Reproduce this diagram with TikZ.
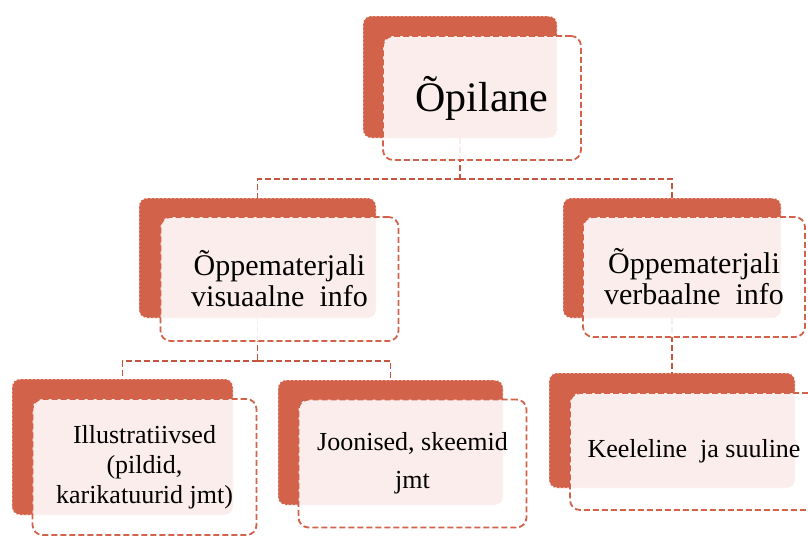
\documentclass[tikz,border=0pt]{standalone}
\usepackage{fontspec}
\setmainfont{Liberation Serif}
\usepackage{tikz}

\definecolor{accent}{RGB}{210,99,74}
\definecolor{linkred}{RGB}{196,86,64}

\begin{document}
\begin{tikzpicture}[x=1pt, y=-1pt,
    back/.style={draw=white, dash pattern=on 2pt off 2pt, line width=0.9pt,
                 fill=accent, rounded corners=8pt, inner sep=0pt},
    front/.style={draw=accent, dash pattern=on 6pt off 3pt, line width=1.8pt,
                  fill=white, fill opacity=0.89, text opacity=1,
                  rounded corners=10pt, inner sep=0pt, align=center},
    link/.style={draw=linkred, dash pattern=on 6pt off 3pt, line width=1.8pt}]
                \useasboundingbox (0,0) rectangle (808,536);

                % Back boxes
                \node[back, minimum width=194pt, minimum height=122pt] (top) at (460,77) {};
                \node[back, minimum width=237pt, minimum height=120pt] (lmid) at (257.5,258) {};
                \node[back, minimum width=218pt, minimum height=120pt] (rmid) at (672,258) {};
                \node[back, minimum width=221pt, minimum height=136pt] (lbot) at (122.5,447) {};
                \node[back, minimum width=225pt, minimum height=125pt] (mbot) at (390.5,442.5) {};
                \node[back, minimum width=246pt, minimum height=115pt] (rbot) at (672,430.5) {};

                % Connectors
                \coordinate (bus1) at (460,179);
                \coordinate (bus2) at (257.5,361);
                \draw[link] (top.south) -- (bus1);
                \draw[link] (bus1) -| (lmid.north);
                \draw[link] (bus1) -| (rmid.north);
                \draw[link] (lmid.south) -- (bus2);
                \draw[link] (bus2) -| (lbot.north);
                \draw[link] (bus2) -| (mbot.north);
                \draw[link] (rmid.south) -- (rbot.north);

                % Front boxes with text
                \node[front, minimum width=198pt, minimum height=124pt,
                      font=\fontsize{42}{44}\selectfont] (topt) at ([shift={(22,21)}]top.center) {Õpilane};
                \node[front, minimum width=238pt, minimum height=124pt,
                      font=\fontsize{30}{31}\selectfont] (lmidt) at ([shift={(22,21)}]lmid.center) {Õppematerjali\\visuaalne\ \ info};
                \node[front, minimum width=222pt, minimum height=120pt,
                      font=\fontsize{30}{31}\selectfont] (rmidt) at ([shift={(22,19)}]rmid.center) {Õppematerjali\\verbaalne\ \ info};
                \node[front, minimum width=224pt, minimum height=136pt,
                      font=\fontsize{26}{30}\selectfont] (lbott) at ([shift={(22,20)}]lbot.center) {Illustratiivsed\\(pildid,\\karikatuurid jmt)};
                \node[front, minimum width=228pt, minimum height=128pt,
                      font=\fontsize{26}{38}\selectfont] (mbott) at ([shift={(22,21)}]mbot.center) {Joonised, skeemid\\jmt};
                \node[front, minimum width=248pt, minimum height=117pt,
                      font=\fontsize{26}{30}\selectfont] (rbott) at ([shift={(22,21)}]rbot.center) {Keeleline\ \ ja suuline};
            \end{tikzpicture}
\end{document}
